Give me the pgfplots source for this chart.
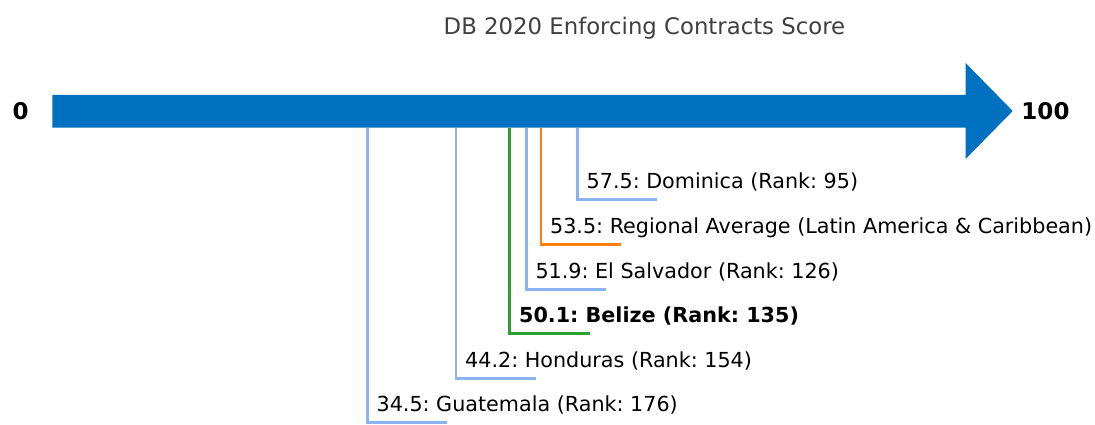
\documentclass[border=0pt]{standalone}
\usepackage{fontspec}
\setmainfont{DejaVu Sans}
\usepackage{pgfplots}
\pgfplotsset{compat=1.18}
\definecolor{arrowblue}{HTML}{0070C0}
\definecolor{lblue}{HTML}{8AB4F0}
\definecolor{morange}{HTML}{FF7F0E}
\definecolor{mgreen}{HTML}{2CA02C}
\definecolor{titlegray}{HTML}{404040}
\frenchspacing
\begin{document}
\begin{tikzpicture}
\useasboundingbox (0,0) rectangle (1095pt,424pt);
\begin{axis}[width=1095pt,height=424pt,scale only axis,hide axis,
  at={(0,0)},anchor=south west,
  xmin=-5.727,xmax=114.17,ymin=-424,ymax=0,clip=false,
  every axis plot/.append style={line join=miter,line cap=butt}]
% arrow
\addplot[fill=arrowblue,draw=none] coordinates {(0,-95) (100,-95) (100,-63) (105.16,-111) (100,-159) (100,-127.5) (0,-127.5)} -- cycle;
% leader lines
\addplot[lblue,line width=2.8pt] coordinates {(34.5,-127.5) (34.5,-422.7) (43.26,-422.7)};
\addplot[lblue,line width=2.8pt] coordinates {(44.2,-127.5) (44.2,-378.7) (52.96,-378.7)};
\addplot[mgreen,line width=2.8pt] coordinates {(50.1,-127.5) (50.1,-333.3) (58.86,-333.3)};
\addplot[lblue,line width=2.8pt] coordinates {(51.9,-127.5) (51.9,-289.3) (60.66,-289.3)};
\addplot[morange,line width=2.8pt] coordinates {(53.5,-127.5) (53.5,-244.3) (62.26,-244.3)};
\addplot[lblue,line width=2.8pt] coordinates {(57.5,-127.5) (57.5,-199.3) (66.26,-199.3)};
% labels
\tikzset{lab/.style={anchor=base west,font=\fontsize{20.7}{24}\selectfont,text=black,inner sep=0pt}}
\node[lab] at (axis cs:35.49,-411.7) {34.5: Guatemala (Rank: 176)};
\node[lab] at (axis cs:45.19,-367.7) {44.2: Honduras (Rank: 154)};
\node[lab,font=\fontsize{20.7}{24}\selectfont\bfseries] at (axis cs:51.09,-322.3) {50.1: Belize (Rank: 135)};
\node[lab] at (axis cs:52.89,-278.3) {51.9: El Salvador (Rank: 126)};
\node[lab] at (axis cs:54.49,-233.3) {53.5: Regional Average (Latin America \& Caribbean)};
\node[lab] at (axis cs:58.49,-188.3) {57.5: Dominica (Rank: 95)};
% end labels
\node[font=\fontsize{23}{26}\selectfont\bfseries,inner sep=0pt] at (axis cs:-3.48,-111) {0};
\node[font=\fontsize{23}{26}\selectfont\bfseries,inner sep=0pt] at (axis cs:108.75,-111) {100};
% title
\node[anchor=base,font=\fontsize{22.8}{26}\selectfont,text=titlegray,inner sep=0pt] at (axis cs:64.84,-35) {DB 2020 Enforcing Contracts Score};
\end{axis}
\end{tikzpicture}
\end{document}
